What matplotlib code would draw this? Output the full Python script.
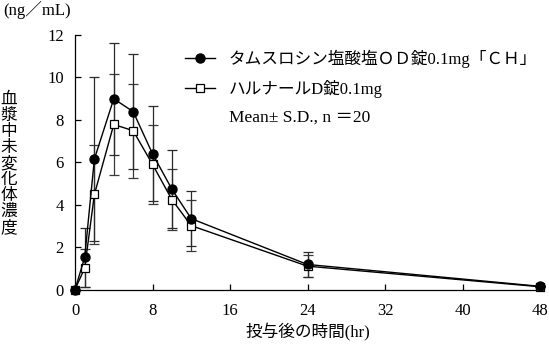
import matplotlib
matplotlib.use("Agg")
import matplotlib.pyplot as plt
from matplotlib.lines import Line2D

FONT = ['Liberation Serif', 'Noto Sans CJK JP']
plt.rcParams['font.family'] = FONT

time_hr = [0, 1, 2, 4, 6, 8, 10, 12, 24, 48]
od_mean = [0.0, 1.51, 6.15, 8.99, 8.39, 6.40, 4.73, 3.34, 1.18, 0.15]
od_sd = [0.0, 1.41, 3.87, 2.65, 2.70, 2.24, 1.83, 1.30, 0.60, 0.0]
ref_mean = [0.0, 1.01, 4.48, 7.78, 7.49, 5.90, 4.24, 3.01, 1.10, 0.13]
ref_sd = [0.0, 0.88, 2.33, 2.36, 2.21, 1.86, 1.45, 1.19, 0.52, 0.0]

label_od = "タムスロシン塩酸塩ＯＤ錠0.1mg「ＣＨ」"
label_ref = "ハルナールD錠0.1mg"
note = "Mean± S.D., n ＝20"
xticks = [0, 8, 16, 24, 32, 40, 48]
yticks = [0, 2, 4, 6, 8, 10, 12]

fig = plt.figure(figsize=(5.49, 3.47), dpi=100)
ax = fig.add_axes([75/549, 1-289.5/347, 465/549, 254.5/347])

ax.errorbar(time_hr, ref_mean, yerr=ref_sd, fmt='none', ecolor='#3a3a3a',
            elinewidth=0.9, capsize=3.5, capthick=0.9, clip_on=False, zorder=2)
ax.errorbar(time_hr, od_mean, yerr=od_sd, fmt='none', ecolor='#2a2a2a',
            elinewidth=0.9, capsize=3.5, capthick=0.9, clip_on=False, zorder=2)
ax.plot(time_hr, ref_mean, color='black', lw=1.0, marker='s', ms=6,
        mfc='white', mec='black', mew=0.9, clip_on=False, zorder=3)
ax.plot(time_hr, od_mean, color='black', lw=1.0, marker='o', ms=6.5,
        mfc='black', mec='black', clip_on=False, zorder=4)

ax.set_xlim(0, 48)
ax.set_ylim(0, 12)
ax.set_xticks(xticks)
ax.set_yticks(yticks)
ax.spines['top'].set_visible(False)
ax.spines['right'].set_visible(False)
for s in ('left', 'bottom'):
    ax.spines[s].set_linewidth(0.9)
ax.tick_params(direction='in', length=4, width=0.9, labelsize=12)
ax.tick_params(axis='x', pad=10)
ax.tick_params(axis='y', pad=8)

ax.set_xlabel("投与後の時間(hr)", fontsize=12, labelpad=3)
fig.text(3/549, 1-10/347, "(ng／mL)", fontsize=12, ha='left', va='center')
fig.text(9/549, 1-164/347, "\n".join("血漿中未変化体濃度"), fontsize=12,
         ha='center', va='center', linespacing=1.0)

handles = [
    Line2D([], [], color='black', lw=1.0, marker='o', ms=6.5, mfc='black'),
    Line2D([], [], color='black', lw=1.0, marker='s', ms=6, mfc='white', mew=0.9),
]
leg = fig.legend(handles, [label_od, label_ref], loc='upper left',
                 bbox_to_anchor=(185/549, 1-50/347), frameon=False,
                 fontsize=12, handlelength=1.8, handletextpad=0.8,
                 labelspacing=0.72, borderpad=0, borderaxespad=0)
fig.text(229/549, 1-118/347, note, fontsize=12.5, ha='left', va='center')

fig.savefig("out.png", dpi=100)
